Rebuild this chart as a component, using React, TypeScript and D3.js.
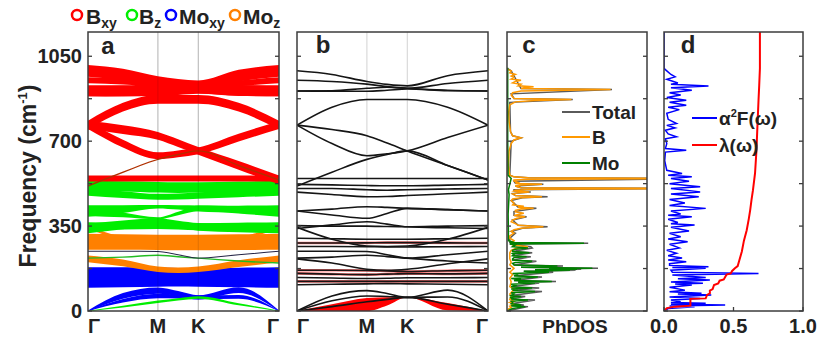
import React from "react";
import * as d3 from "d3";

// ---------- k-path (Γ–M–K–Γ, reduced distance) ----------
const kPath = [0, 0.2887, 0.5774, 0.744, 0.9107, 1.244, 1.5773];
const kTickPos = [0, 0.5774, 0.9107, 1.5773];
const kTickLabels = ["Γ", "M", "K", "Γ"];

// ---------- phonon bands (cm^-1) at kPath points ----------
const bandH1 = [990, 975, 946, 934, 928, 970, 990];
const bandH2 = [951, 946, 935, 925, 918, 938, 951];
const bandH3 = [907, 908, 918, 922, 918, 910, 907];
const bandH4 = [907, 906, 906, 910, 915, 908, 907];
const bandA = [766, 840, 872, 872, 872, 840, 766];
const bandB = [766, 748, 722, 692, 660, 600, 540];
const bandC = [766, 690, 640, 648, 660, 715, 766];
const bandD = [515, 572, 625, 645, 660, 600, 540];
const bandF1 = [546, 546, 546, 546, 546, 546, 546];
const bandF2 = [522, 520, 517, 516, 516, 519, 522];
const bandF3 = [505, 505, 500, 498, 500, 503, 505];
const bandF4 = [490, 480, 471, 472, 476, 483, 490];
const bandG1 = [412, 420, 430, 427, 423, 418, 412];
const bandG2 = [412, 396, 382, 402, 423, 418, 412];
const bandG3 = [340, 355, 368, 358, 347, 343, 340];
const bandG4 = [352, 350, 350, 348, 347, 350, 352];
const bandG5 = [345, 296, 268, 266, 268, 296, 345];
const bandO1 = [300, 298, 296, 296, 296, 298, 300];
const bandO2 = [280, 280, 281, 282, 282, 281, 280];
const bandO3 = [266, 266, 265, 264, 264, 265, 266];
const bandE1 = [246, 246, 245, 232, 218, 232, 246];
const bandE2 = [218, 222, 230, 224, 218, 206, 198];
const bandE3 = [215, 198, 172, 168, 172, 195, 215];
const bandM1 = [168, 168, 167, 165, 163, 166, 168];
const bandM2 = [155, 152, 150, 152, 154, 153, 155];
const bandM3 = [138, 136, 134, 135, 137, 137, 138];
const bandM4 = [122, 122, 122, 122, 122, 122, 122];
const bandM5 = [108, 110, 112, 113, 112, 110, 108];
const bandLA = [0, 62, 84, 72, 56, 86, 0];
const bandTA = [0, 42, 62, 60, 56, 58, 0];
const bandZA = [0, 18, 38, 48, 56, 28, 0];

// fat-band half widths (cm^-1) for panel a
const wH1 = [24, 24, 22, 22, 22, 24, 24];
const wH2 = [12, 12, 12, 12, 12, 12, 12];
const wH3 = [22, 22, 20, 20, 20, 22, 22];
const wH4 = [22, 22, 20, 20, 20, 22, 22];
const wA = [18, 18, 18, 18, 18, 18, 18];
const wB = [18, 18, 16, 16, 16, 18, 18];
const wC = [16, 16, 14, 14, 14, 16, 16];
const wD = [3, 3, 3, 3, 3, 3, 3];
const wF1 = [12, 12, 12, 12, 12, 12, 12];
const wF2 = [15, 15, 15, 15, 15, 15, 15];
const wF3 = [12, 12, 12, 12, 12, 12, 12];
const wF4 = [15, 14, 12, 12, 13, 14, 15];
const wG1 = [24, 16, 7, 9, 12, 16, 24];
const wG2 = [20, 10, 4, 7, 12, 14, 20];
const wG3 = [20, 18, 14, 14, 16, 18, 20];
const wG4 = [14, 14, 12, 12, 14, 14, 14];
const wG5 = [6, 6, 6, 6, 6, 6, 6];
const wO1 = [18, 18, 18, 18, 18, 18, 18];
const wO2 = [14, 14, 14, 14, 14, 14, 14];
const wO3 = [14, 14, 14, 14, 14, 14, 14];
const wE1 = [2, 2, 2, 2, 2, 2, 2];
const wE2 = [3, 3, 3, 3, 3, 3, 3];
const wE3 = [14, 14, 11, 11, 11, 14, 14];
const wM = [12, 12, 12, 12, 12, 12, 12];
const wLA = [2, 12, 13, 10, 9, 12, 2];
const wTA = [1, 7, 9, 8, 8, 8, 1];
const wZA = [1, 4, 5, 5, 5, 4, 1];

// λ-weighted acoustic fat band for panel b
const lamCenter = [0, 14, 27, 40, 57, 18, 0];
const lamWidth = [0, 14, 27, 17, 0, 15, 0];

// ---------- PhDOS (freq cm^-1, arb.) ----------
const dosMo: [number, number][] = [[0,0],[10,0.04],[18,0.13],[22,0.03],[25,0.10],[30,0.03],[35,0.04],[40,0.03],[45,0.15],[49,0.03],[52,0.05],[56,0.02],[60,0.10],[64,0.03],[70,0.05],[75,0.03],[80,0.20],[84,0.04],[88,0.08],[91,0.03],[95,0.18],[100,0.03],[105,0.06],[110,0.03],[115,0.20],[118,0.08],[122,0.32],[126,0.05],[130,0.10],[134,0.03],[140,0.22],[145,0.05],[150,0.08],[155,0.04],[160,0.30],[164,0.12],[168,0.45],[170,0.2],[172,0.50],[174,0.3],[176,0.61],[180,0.10],[185,0.36],[190,0.05],[196,0.04],[200,0.06],[205,0.18],[210,0.04],[215,0.04],[220,0.05],[224,0.14],[228,0.04],[232,0.05],[236,0.04],[240,0.16],[245,0.04],[250,0.04],[255,0.06],[260,0.15],[265,0.04],[272,0.06],[276,0.02],[279,0.55],[282,0.02],[285,0.04],[290,0.01],[330,0.01],[400,0.008],[480,0.015],[500,0.01],[546,0.03],[560,0.008],[700,0.005],[1000,0.005],[1000,0]];
const dosB: [number, number][] = [[0,0],[8,0.01],[15,0.03],[20,0.02],[28,0.05],[35,0.02],[40,0.05],[48,0.02],[60,0.03],[70,0.02],[90,0.05],[100,0.02],[120,0.03],[135,0.02],[150,0.04],[160,0.02],[176,0.05],[190,0.02],[200,0.03],[215,0.02],[240,0.02],[250,0.03],[258,0.06],[265,0.15],[272,0.04],[280,0.03],[290,0.05],[300,0.02],[310,0.02],[321,0.05],[328,0.03],[335,0.05],[341,0.10],[347,0.26],[353,0.08],[360,0.06],[368,0.03],[375,0.04],[382,0.07],[388,0.13],[394,0.05],[403,0.12],[409,0.06],[415,0.06],[420,0.10],[424,0.19],[428,0.08],[432,0.12],[437,0.04],[445,0.05],[455,0.03],[462,0.04],[467,0.10],[471,0.25],[476,0.06],[482,0.04],[487,0.08],[491,0.16],[495,0.05],[498,0.06],[502,0.20],[505,1.4],[508,0.10],[515,0.06],[519,0.10],[522,0.25],[526,0.06],[530,0.08],[536,0.05],[540,0.05],[543,0.15],[546,1.4],[549,0.15],[553,0.05],[560,0.02],[600,0.01],[660,0.015],[690,0.03],[705,0.05],[714,0.10],[722,0.04],[740,0.025],[780,0.015],[820,0.012],[850,0.02],[862,0.06],[868,0.2],[872,0.46],[876,0.05],[890,0.03],[900,0.04],[907,0.10],[913,0.74],[917,0.10],[920,0.12],[924,0.19],[928,0.08],[935,0.10],[940,0.04],[946,0.06],[951,0.10],[956,0.03],[962,0.05],[968,0.03],[975,0.06],[982,0.02],[990,0.03],[995,0.01],[1000,0]];
const dosTotal: [number, number][] = [[0,0],[18,0.15],[22,0.03],[25,0.12],[30,0.03],[45,0.20],[49,0.03],[60,0.13],[64,0.03],[80,0.25],[84,0.04],[95,0.23],[100,0.03],[115,0.23],[118,0.08],[122,0.35],[126,0.05],[140,0.25],[145,0.05],[160,0.33],[164,0.12],[168,0.49],[170,0.2],[172,0.53],[174,0.3],[176,0.65],[180,0.10],[185,0.40],[190,0.05],[205,0.21],[210,0.04],[224,0.17],[228,0.04],[240,0.18],[245,0.04],[260,0.18],[265,0.17],[272,0.07],[276,0.02],[279,0.58],[282,0.02],[300,0.02],[321,0.06],[328,0.03],[341,0.11],[347,0.29],[353,0.08],[375,0.04],[388,0.14],[394,0.05],[410,0.05],[424,0.21],[428,0.08],[455,0.03],[467,0.11],[471,0.29],[476,0.06],[484,0.04],[491,0.17],[495,0.05],[500,0.05],[505,1.4],[508,0.10],[515,0.06],[522,0.26],[526,0.06],[535,0.05],[546,1.4],[549,0.15],[553,0.05],[560,0.02],[700,0.03],[714,0.10],[722,0.04],[740,0.025],[860,0.02],[872,0.47],[876,0.05],[895,0.03],[913,0.75],[917,0.10],[990,0.03],[1000,0]];

// ---------- Eliashberg function and λ(ω) ----------
const a2F: [number, number][] = [[0,0],[10,0.03],[18,0.22],[21,0.04],[25,0.44],[28,0.05],[32,0.30],[35,0.05],[38,0.12],[45,0.05],[52,0.26],[58,0.04],[66,0.34],[70,0.10],[73,0.27],[79,0.04],[86,0.15],[98,0.04],[107,0.20],[111,0.08],[114,0.28],[120,0.05],[128,0.33],[133,0.10],[138,0.30],[148,0.06],[155,0.68],[160,0.06],[168,0.05],[176,0.30],[179,0.06],[182,0.32],[188,0.04],[195,0.04],[203,0.16],[210,0.03],[218,0.13],[228,0.03],[238,0.09],[250,0.02],[260,0.11],[275,0.04],[285,0.17],[297,0.03],[306,0.12],[320,0.04],[330,0.18],[345,0.05],[354,0.22],[360,0.05],[365,0.10],[378,0.03],[388,0.20],[395,0.03],[400,0.12],[412,0.05],[423,0.30],[435,0.04],[445,0.15],[460,0.04],[471,0.25],[482,0.05],[491,0.26],[505,0.05],[512,0.26],[525,0.04],[535,0.18],[546,0.05],[553,0.20],[560,0.03],[567,0.13],[580,0.02],[620,0.005],[655,0.01],[663,0.16],[670,0.01],[690,0.02],[710,0.01],[718,0.09],[730,0.03],[745,0.01],[755,0.08],[765,0.02],[773,0.09],[790,0.03],[815,0.02],[830,0.11],[840,0.03],[848,0.16],[860,0.04],[869,0.16],[880,0.02],[890,0.12],[900,0.04],[910,0.20],[920,0.05],[927,0.32],[935,0.05],[940,0.10],[955,0.02],[965,0.08],[975,0.05],[990,0.02],[1000,0],[1150,0]];
const lambdaW: [number, number][] = [[0,0],[12,0.02],[18,0.08],[22,0.19],[25,0.19],[50,0.19],[52,0.30],[66,0.31],[73,0.33],[84,0.33],[90,0.35],[107,0.36],[114,0.39],[125,0.40],[130,0.43],[140,0.44],[150,0.45],[155,0.48],[165,0.49],[176,0.51],[185,0.53],[205,0.54],[245,0.56],[290,0.575],[333,0.595],[380,0.61],[416,0.62],[460,0.63],[498,0.64],[568,0.655],[660,0.665],[760,0.672],[869,0.68],[930,0.685],[1000,0.69],[1150,0.69]];

// ---------- axis ----------
const freqMax = 1150;
const yTicks = [0, 175, 350, 525, 700, 875, 1050];
const yTickLabels = [0, 350, 700, 1050];
const dTicks = [0, 0.5, 1];
const dTickLabels = ["0.0", "0.5", "1.0"];

const RED = "#ff0000", GREEN = "#00ee00", BLUE = "#0000ff", ORANGE = "#ff8000";
const FONT = "'Liberation Sans', Arial, Helvetica, sans-serif";
const AXC = "#3c3c3c";

export default function App() {
  const top = 32, bottom = 311;
  const pa = [88, 279], pb = [297, 488], pc = [507, 647], pd = [664, 803];
  const y = d3.scaleLinear().domain([0, freqMax]).range([bottom, top]);
  const xa = d3.scaleLinear().domain([0, kPath[6]]).range(pa);
  const xb = d3.scaleLinear().domain([0, kPath[6]]).range(pb);
  const xc = d3.scaleLinear().domain([0, 1]).range(pc);
  const xd = d3.scaleLinear().domain([0, 1]).range(pd);

  const fat = [
    { v: bandLA, w: wLA, c: BLUE }, { v: bandTA, w: wTA, c: BLUE },
    { v: bandM5, w: wM, c: BLUE }, { v: bandM4, w: wM, c: BLUE }, { v: bandM3, w: wM, c: BLUE },
    { v: bandM2, w: wM, c: BLUE }, { v: bandM1, w: wM, c: BLUE },
    { v: bandZA, w: wZA, c: GREEN },
    { v: bandE3, w: wE3, c: ORANGE }, { v: bandO3, w: wO3, c: ORANGE }, { v: bandO2, w: wO2, c: ORANGE },
    { v: bandO1, w: wO1, c: ORANGE }, { v: bandG5, w: wG5, c: ORANGE },
    { v: bandG4, w: wG4, c: GREEN }, { v: bandG3, w: wG3, c: GREEN }, { v: bandG2, w: wG2, c: GREEN },
    { v: bandG1, w: wG1, c: GREEN }, { v: bandF4, w: wF4, c: GREEN }, { v: bandF3, w: wF3, c: GREEN },
    { v: bandF2, w: wF2, c: GREEN },
    { v: bandF1, w: wF1, c: RED }, { v: bandC, w: wC, c: RED }, { v: bandB, w: wB, c: RED },
    { v: bandA, w: wA, c: RED }, { v: bandH4, w: wH4, c: RED }, { v: bandH3, w: wH3, c: RED },
    { v: bandH1, w: wH1, c: RED }, { v: bandH2, w: wH2, c: RED },
    { v: bandD, w: wD, c: "#b03000" }, { v: bandE2, w: wE2, c: "#22bb22" }, { v: bandE1, w: wE1, c: "#222244" },
  ];
  const allBands = [bandH1, bandH2, bandH3, bandH4, bandA, bandB, bandC, bandD, bandF1, bandF2, bandF3, bandF4,
    bandG1, bandG2, bandG3, bandG4, bandG5, bandO1, bandO2, bandO3, bandE1, bandE2, bandE3,
    bandM1, bandM2, bandM3, bandM4, bandM5, bandLA, bandTA, bandZA];
  const redTraced = [bandM1, bandM2, bandM4, bandO2];

  const fatArea = (w: number[]) =>
    d3.area<number>()
      .x((_, i) => xa(kPath[i]))
      .y0((v, i) => y(v - w[i]))
      .y1((v, i) => y(v + w[i]))
      .curve(d3.curveMonotoneX);
  const lineB = d3.line<number>().x((_, i) => xb(kPath[i])).y((v) => y(v)).curve(d3.curveMonotoneX);
  const lamArea = d3.area<number>()
    .x((_, i) => xb(kPath[i]))
    .y0((v, i) => y(v - lamWidth[i]))
    .y1((v, i) => y(v + lamWidth[i]))
    .curve(d3.curveMonotoneX);
  const dosLine = d3.line<[number, number]>().x((d) => xc(d[1])).y((d) => y(d[0]));
  const dLine = d3.line<[number, number]>().x((d) => xd(d[1])).y((d) => y(d[0]));

  const frame = (p: number[], key: string) => (
    <g key={key}>
      {yTicks.map((t) => (
        <g key={t}>
          <line x1={p[0]} x2={p[0] + 4} y1={y(t)} y2={y(t)} stroke={AXC} strokeWidth={1.3} />
          <line x1={p[1] - 4} x2={p[1]} y1={y(t)} y2={y(t)} stroke={AXC} strokeWidth={1.3} />
        </g>
      ))}
      <rect x={p[0]} y={top} width={p[1] - p[0]} height={bottom - top} fill="none" stroke={AXC} strokeWidth={1.5} />
    </g>
  );
  const vlines = (xs: d3.ScaleLinear<number, number>, op: number) =>
    [kTickPos[1], kTickPos[2]].map((k) => (
      <line key={k} x1={xs(k)} x2={xs(k)} y1={top} y2={bottom} stroke="#000" strokeOpacity={op} strokeWidth={1} />
    ));
  const txt = { fontFamily: FONT, fontWeight: 700 as const, fill: "#222" };

  return (
    <svg width={818} height={339} style={{ position: "absolute", left: 0, top: 0, background: "#fff" }}>
      <defs>
        <clipPath id="clipA"><rect x={pa[0]} y={top} width={pa[1] - pa[0]} height={bottom - top} /></clipPath>
        <clipPath id="clipB"><rect x={pb[0]} y={top} width={pb[1] - pb[0]} height={bottom - top} /></clipPath>
        <clipPath id="clipC"><rect x={pc[0]} y={top} width={pc[1] - pc[0]} height={bottom - top} /></clipPath>
        <clipPath id="clipD"><rect x={pd[0]} y={top} width={pd[1] - pd[0]} height={bottom - top} /></clipPath>
      </defs>

      {/* legend top */}
      <g>
        <circle cx={77} cy={15} r={5} fill="none" stroke={RED} strokeWidth={2.5} />
        <text x={86} y={24} fontSize={21} {...txt}>B<tspan fontSize={14} dy={4}>xy</tspan></text>
        <circle cx={132} cy={15} r={5} fill="none" stroke={GREEN} strokeWidth={2.5} />
        <text x={139} y={24} fontSize={21} {...txt}>B<tspan fontSize={14} dy={4}>z</tspan></text>
        <circle cx={171} cy={15} r={5} fill="none" stroke={BLUE} strokeWidth={2.5} />
        <text x={179} y={24} fontSize={21} {...txt}>Mo<tspan fontSize={14} dy={4}>xy</tspan></text>
        <circle cx={235} cy={15} r={5} fill="none" stroke={ORANGE} strokeWidth={2.5} />
        <text x={243} y={24} fontSize={21} {...txt}>Mo<tspan fontSize={14} dy={4}>z</tspan></text>
      </g>

      {/* panel a */}
      <g clipPath="url(#clipA)">
        {vlines(xa, 0.2)}
        {fat.map((b, i) => (
          <path key={i} d={fatArea(b.w)(b.v) || ""} fill={b.c} />
        ))}
        {vlines(xa, 0.12)}
      </g>
      {frame(pa, "fa")}

      {/* panel b */}
      <g clipPath="url(#clipB)">
        {vlines(xb, 0.18)}
        <path d={lamArea(lamCenter) || ""} fill={RED} />
        {redTraced.map((b, i) => (
          <path key={i} d={lineB(b) || ""} fill="none" stroke={RED} strokeWidth={2.6} strokeOpacity={0.55} />
        ))}
        {allBands.map((b, i) => (
          <path key={i} d={lineB(b) || ""} fill="none" stroke="#151515" strokeWidth={1.6} />
        ))}
      </g>
      {frame(pb, "fb")}

      {/* panel c */}
      <g clipPath="url(#clipC)">
        <path d={dosLine(dosTotal) || ""} fill="none" stroke="#5a5a5a" strokeWidth={1.5} />
        <path d={dosLine(dosB) || ""} fill="none" stroke="#ff9900" strokeWidth={1.5} />
        <path d={dosLine(dosMo) || ""} fill="none" stroke="#008000" strokeWidth={1.5} />
      </g>
      {frame(pc, "fc")}
      {[["Total", "#5a5a5a", 112], ["B", "#ff9900", 137], ["Mo", "#008000", 163]].map(([l, c, yy]) => (
        <g key={l as string}>
          <line x1={562} x2={590} y1={yy as number} y2={yy as number} stroke={c as string} strokeWidth={2} />
          <text x={592} y={(yy as number) + 7} fontSize={19} {...txt}>{l}</text>
        </g>
      ))}

      {/* panel d */}
      <g clipPath="url(#clipD)">
        <path d={dLine(a2F) || ""} fill="none" stroke={BLUE} strokeWidth={1.5} />
        <path d={dLine(lambdaW) || ""} fill="none" stroke={RED} strokeWidth={2} />
      </g>
      {frame(pd, "fd")}
      {dTicks.map((t) => (
        <line key={t} x1={xd(t)} x2={xd(t)} y1={bottom} y2={bottom - 4} stroke={AXC} strokeWidth={1.3} />
      ))}
      <line x1={692} x2={717} y1={118} y2={118} stroke={BLUE} strokeWidth={2} />
      <text x={719} y={125} fontSize={19} {...txt}>α<tspan fontSize={11} dy={-8}>2</tspan><tspan dy={8}>F(ω)</tspan></text>
      <line x1={692} x2={717} y1={145} y2={145} stroke={RED} strokeWidth={2} />
      <text x={719} y={152} fontSize={19} {...txt}>λ(ω)</text>

      {/* panel letters */}
      <text x={108} y={54} fontSize={24} textAnchor="middle" {...txt}>a</text>
      <text x={323} y={53} fontSize={24} textAnchor="middle" {...txt}>b</text>
      <text x={529} y={53} fontSize={24} textAnchor="middle" {...txt}>c</text>
      <text x={688} y={53} fontSize={24} textAnchor="middle" {...txt}>d</text>

      {/* y axis labels */}
      {yTickLabels.map((t) => (
        <text key={t} x={82} y={y(t) + 7} fontSize={20} textAnchor="end" {...txt}>{t}</text>
      ))}
      <text transform="translate(36,176) rotate(-90)" fontSize={23} textAnchor="middle" {...txt}>
        Frequency (cm<tspan fontSize={13} dy={-9}>-1</tspan><tspan dy={9}>)</tspan>
      </text>

      {/* k labels */}
      {[xa, xb].map((xs, j) =>
        kTickPos.map((k, i) => (
          <text key={j + "-" + i} x={xs(k) + (i === 0 ? 6 : i === 3 ? -6 : 0)} y={333} fontSize={20} textAnchor="middle" {...txt}>
            {kTickLabels[i]}
          </text>
        ))
      )}
      <text x={575} y={333} fontSize={19} textAnchor="middle" {...txt}>PhDOS</text>
      {dTicks.map((t, i) => (
        <text key={t} x={xd(t)} y={333} fontSize={20} textAnchor="middle" {...txt}>{dTickLabels[i]}</text>
      ))}
    </svg>
  );
}
